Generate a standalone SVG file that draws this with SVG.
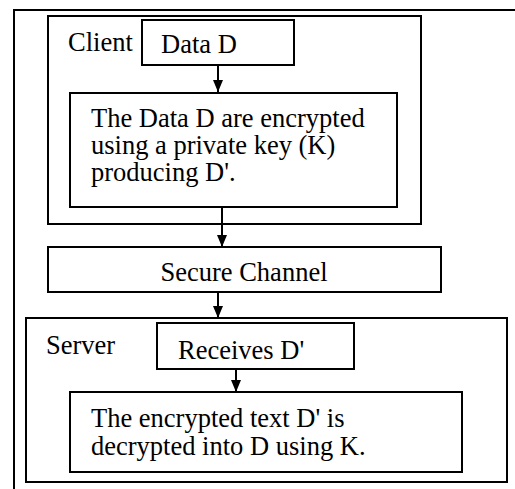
<svg xmlns="http://www.w3.org/2000/svg" width="515" height="489" viewBox="0 0 515 489">
<defs>
<style>
.box{fill:#fff;stroke:#000;stroke-width:2}
.frame{fill:none;stroke:#000;stroke-width:2}
.c{stroke:#000;stroke-width:2;fill:none}
.t{font-family:'Times New Roman','Liberation Serif','DejaVu Serif',serif;font-size:26.5px;fill:#000}
</style>
<marker id="ah" markerWidth="12" markerHeight="10" refX="12" refY="5" orient="auto" markerUnits="userSpaceOnUse">
<path d="M0,0 L12,5 L0,10 Z" fill="#000"/>
</marker>
</defs>
<rect width="515" height="489" fill="#fff"/>
<path class="frame" d="M515,10 H14 V489"/>
<g id="client">
<rect class="box" x="48" y="16" width="373" height="208"/>
<text class="t" x="68" y="51">Client</text>
</g>
<g id="data-d">
<rect class="box" x="142" y="20" width="152" height="45"/>
<text class="t" x="161" y="53">Data D</text>
</g>
<g id="encrypt">
<rect class="box" x="70" y="93" width="327" height="114"/>
<text class="t" x="91" y="127">The Data D are encrypted</text>
<text class="t" x="91" y="154">using a private key (K)</text>
<text class="t" x="91" y="181">producing D'.</text>
</g>
<g id="secure-channel">
<rect class="box" x="48" y="247" width="393" height="45"/>
<text class="t" x="244" y="281" text-anchor="middle">Secure Channel</text>
</g>
<g id="server">
<rect class="box" x="26" y="318" width="481" height="164"/>
<text class="t" x="46" y="354">Server</text>
</g>
<g id="receives">
<rect class="box" x="157" y="323" width="197" height="46"/>
<text class="t" x="178" y="359">Receives D'</text>
</g>
<g id="decrypt">
<rect class="box" x="70" y="392" width="392" height="80"/>
<text class="t" x="91" y="427">The encrypted text D' is</text>
<text class="t" x="91" y="455">decrypted into D using K.</text>
</g>
<g id="connectors">
<line class="c" x1="218" y1="65" x2="218" y2="92" marker-end="url(#ah)"/>
<line class="c" x1="222" y1="207" x2="222" y2="247" marker-end="url(#ah)"/>
<line class="c" x1="218" y1="292" x2="218" y2="318" marker-end="url(#ah)"/>
<line class="c" x1="236" y1="369" x2="236" y2="392" marker-end="url(#ah)"/>
</g>
</svg>
